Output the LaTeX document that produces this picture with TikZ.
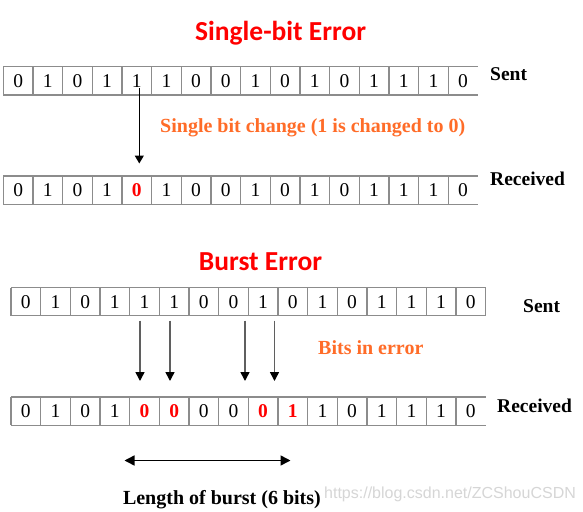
\documentclass[tikz,border=0pt]{standalone}
\usepackage{fontspec}
\setmainfont{Liberation Serif}
\newfontfamily\titlefont{Carlito}
\newfontfamily\wmfont{Liberation Sans}
\usetikzlibrary{arrows.meta}
\definecolor{orangetxt}{RGB}{255,108,40}
\definecolor{cellgray}{RGB}{140,140,140}
\definecolor{arrgray}{RGB}{95,95,95}
\newcommand\redbit[1]{\textcolor{red}{\bfseries #1}}
\tikzset{
  cell/.style={minimum width=29.66pt, minimum height=28.3pt, inner sep=0pt, outer sep=0pt,
    font=\fontsize{19.5}{22}\selectfont},
  cellline/.style={draw=cellgray, line width=1.3pt},
  title/.style={anchor=base, inner sep=0pt, text=red, font=\titlefont\bfseries\fontsize{27.5}{32}\selectfont},
  lbl/.style={anchor=base west, inner sep=0pt, font=\bfseries\fontsize{19.5}{22}\selectfont},
  note/.style={anchor=base west, inner sep=0pt, text=orangetxt, font=\bfseries\fontsize{20}{24}\selectfont},
  onearrow/.style={line width=1.3pt, -{Triangle[width=9pt,length=8pt]}},
  grayarrow/.style={draw=arrgray, line width=1.6pt, -{Triangle[width=9pt,length=9pt,color=black]}},
  spanarrow/.style={line width=1.5pt, {Triangle[width=10pt,length=10pt]}-{Triangle[width=10pt,length=10pt]}},
}
\begin{document}
\begin{tikzpicture}[x=1pt,y=-1pt]
\useasboundingbox[fill=white] (0,0) rectangle (583,511);

% titles
\node[title] (t1) at (280.6,40.7) {Single-bit Error};
\node[title] (t2) at (260.5,270) {Burst Error};

% row 1: sent
\foreach \b [count=\i from 0] in {0,1,0,1,1,1,0,0,1,0,1,0,1,1,1,0}
  \node[cell] (a\i) at ({3.3+29.66*(\i+0.5)},80.85) {\b};
% row 2: received
\foreach \b [count=\i from 0] in {0,1,0,1,\redbit{0},1,0,0,1,0,1,0,1,1,1,0}
  \node[cell] (b\i) at ({3.3+29.66*(\i+0.5)},190.15) {\b};
% row 3: sent
\foreach \b [count=\i from 0] in {0,1,0,1,1,1,0,0,1,0,1,0,1,1,1,0}
  \node[cell] (c\i) at ({11+29.66*(\i+0.5)},301.65) {\b};
% row 4: received
\foreach \b [count=\i from 0] in {0,1,0,1,\redbit{0},\redbit{0},0,0,\redbit{0},\redbit{1},1,0,1,1,1,0}
  \node[cell] (d\i) at ({11+29.66*(\i+0.5)},411.15) {\b};

% cell borders
\foreach \r in {a,b,c,d}{
  \draw[cellline] (\r0.north west) -- (\r15.north east);
  \draw[cellline] (\r0.south west) -- (\r15.south east);
  \foreach \i in {0,...,15}
    \draw[cellline] (\r\i.north west) -- (\r\i.south west);
}
\draw[cellline] (c15.north east) -- (c15.south east);

% row labels
\node[lbl] (ls1) at (490,80) {Sent};
\node[lbl] (lr1) at (490,185.7) {Received};
\node[lbl] (ls2) at (523,312.7) {Sent};
\node[lbl] (lr2) at (497,412.3) {Received};

% notes
\node[note] (n1) at (160,132.7) {Single bit change (1 is changed to 0)};
\node[note] (n2) at (318,354) {Bits in error};
\node[lbl, font=\bfseries\fontsize{20}{24}\selectfont] (n3) at (122.8,504.5) {Length of burst (6 bits)};
\node[anchor=base west, inner sep=0pt, text=gray!32, font=\wmfont\fontsize{16}{18}\selectfont] (wm) at (324,498.5) {https://blog.csdn.net/ZCShouCSDN};

% single-bit arrow
\coordinate (p1) at (139.3,88);
\coordinate (q1) at (139.3,163.5);
\draw[onearrow] (p1) -- (q1);

% burst arrows
\foreach \x [count=\k] in {140,170,245,274.5}{
  \coordinate (bp\k) at (\x,320.5);
  \coordinate (bq\k) at (\x,381);
  \draw[grayarrow] (bp\k) -- (bq\k);
}

% burst length arrow
\coordinate (L1) at (124.5,460.5);
\coordinate (L2) at (290.5,460.5);
\draw[spanarrow] (L1) -- (L2);
\end{tikzpicture}
\end{document}
